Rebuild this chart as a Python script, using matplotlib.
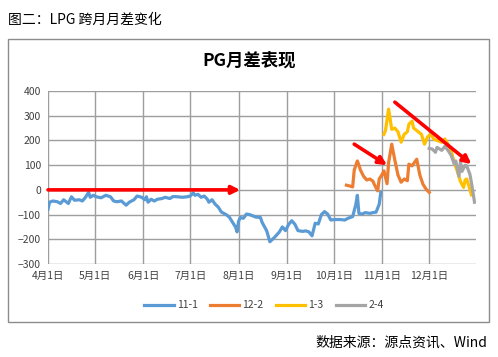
import pandas as pd
import matplotlib
matplotlib.use("Agg")
import matplotlib.pyplot as plt
import matplotlib.dates as mdates
from matplotlib.patches import Rectangle

plt.rcParams['font.family'] = ['Noto Sans CJK SC', 'DejaVu Sans']

start = pd.Timestamp('2020-04-01')

# day offsets from 4月1日 and spread values
d_11_1 = [0, 1, 3, 6, 8, 10, 11, 13, 15, 17, 20, 22, 24, 26, 27, 29, 31, 34, 37, 40,
          42, 44, 47, 50, 52, 55, 57, 60, 62, 63, 64, 66, 68, 70, 73, 75, 78, 80, 83, 86,
          89, 91, 93, 94, 96, 98, 100, 102, 103, 105, 107, 109, 111, 114, 116, 118, 120, 121, 122, 123,
          125, 127, 129, 131, 133, 136, 137, 140, 142, 145, 148, 150, 152, 154, 156, 158, 160, 163, 165, 167,
          169, 171, 173, 175, 177, 179, 181, 184, 187, 190, 192, 195, 197, 198, 199, 201, 203, 206, 208, 210,
          212, 213]
v_11_1 = [-78, -50, -45, -48, -55, -40, -45, -55, -28, -42, -40, -45, -30, -10, -30, -22, -28, -32, -22, -28,
          -45, -48, -45, -62, -50, -40, -25, -30, -40, -28, -50, -38, -45, -38, -35, -30, -35, -27, -28, -30,
          -28, -25, -12, -22, -18, -30, -25, -38, -50, -40, -58, -70, -90, -100, -110, -130, -150, -170, -127, -112,
          -115, -98, -100, -105, -110, -112, -131, -166, -210, -192, -171, -150, -165, -140, -125, -139, -165, -168, -166, -170,
          -186, -135, -138, -100, -88, -98, -122, -120, -120, -122, -115, -108, -60, -22, -95, -98, -92, -95, -92, -90,
          -58, -10]

d_12_2 = [191, 193, 195, 196, 198, 199, 200, 202, 204, 206, 208, 209, 211, 212, 214, 215, 217, 218, 220, 222,
          224, 226, 228, 230, 231, 233, 236, 238, 240, 242, 244]
v_12_2 = [19, 16, 12, 80, 117, 100, 80, 55, 40, 44, 35, 20, -4, 44, 64, 77, 25, 110, 185, 120,
          60, 31, 44, 37, 104, 97, 124, 60, 23, 3, -10]

d_1_3 = [215, 216, 218, 220, 222, 224, 226, 228, 230, 231, 233, 234, 236, 239, 241, 243, 245, 247, 249, 252,
         254, 256, 258, 260, 262, 264, 266, 267, 268, 270, 271]
v_1_3 = [225, 240, 327, 245, 250, 235, 193, 225, 235, 266, 278, 250, 240, 225, 185, 215, 225, 205, 200, 193,
         206, 185, 160, 110, 75, 34, 10, 40, 44, 3, -20]

d_2_4 = [244, 246, 248, 249, 252, 254, 256, 258, 260, 261, 263, 264, 265, 267, 268, 270, 271, 273]
v_2_4 = [168, 165, 152, 172, 160, 176, 160, 140, 105, 117, 55, 115, 75, 100, 97, 64, 30, -50]

series = ['11-1', '12-2', '1-3', '2-4']
colors = ['#5B9BD5', '#ED7D31', '#FFC000', '#A5A5A5']
xs = [d_11_1, d_12_2, d_1_3, d_2_4]
ys = [v_11_1, v_12_2, v_1_3, v_2_4]

fig = plt.figure(figsize=(4.98, 3.57), dpi=100)
fig.patch.set_facecolor('white')

# chart frame
fig.patches.append(Rectangle((0.016, 0.098), 0.966, 0.793, transform=fig.transFigure,
                             fill=False, edgecolor='#8C8C8C', linewidth=1.0))

ax = fig.add_axes([0.0964, 0.2605, 0.8596, 0.4845])

for name, c, d, v in zip(series, colors, xs, ys):
    dates = [start + pd.Timedelta(days=k) for k in d]
    ax.plot(dates, v, color=c, linewidth=2.3, label=name, solid_joinstyle='round')

ax.set_ylim(-300, 400)
ax.set_yticks(range(-300, 401, 100))
ax.set_xlim(start, pd.Timestamp('2020-12-31'))
ax.xaxis.set_major_locator(mdates.MonthLocator(bymonthday=1))
ax.xaxis.set_major_formatter(mdates.DateFormatter('%-m月%-d日'))
ax.grid(True, color='#9E9E9E', linewidth=1.0)
ax.set_axisbelow(True)
for s in ax.spines.values():
    s.set_visible(False)
ax.tick_params(length=0, labelsize=7.5, colors='#404040', pad=5)

# red arrows
arrow = dict(arrowstyle='-|>', color='#FF0000', lw=2.6, mutation_scale=12, shrinkA=0, shrinkB=0)
ax.annotate('', xy=(start + pd.Timedelta(days=123), 0), xytext=(start, 0), arrowprops=arrow, annotation_clip=False)
ax.annotate('', xy=(start + pd.Timedelta(days=217), 100), xytext=(start + pd.Timedelta(days=196), 185), arrowprops=arrow)
ax.annotate('', xy=(start + pd.Timedelta(days=271), 104), xytext=(start + pd.Timedelta(days=222), 355), arrowprops=arrow)

fig.text(0.5, 0.83, 'PG月差表现', ha='center', va='center', fontsize=12.5, fontweight='bold', color='#000000')
fig.text(0.016, 0.945, '图二：LPG 跨月月差变化', ha='left', va='center', fontsize=10, color='#000000')
fig.text(0.978, 0.04, '数据来源：源点资讯、Wind', ha='right', va='center', fontsize=10, color='#000000')

fig.legend(loc='center', bbox_to_anchor=(0.53, 0.145), ncol=4, frameon=False, fontsize=7.5,
           handlelength=2.8, columnspacing=1.2, handletextpad=0.3, labelcolor='#404040')

fig.savefig('out.png', dpi=100)
